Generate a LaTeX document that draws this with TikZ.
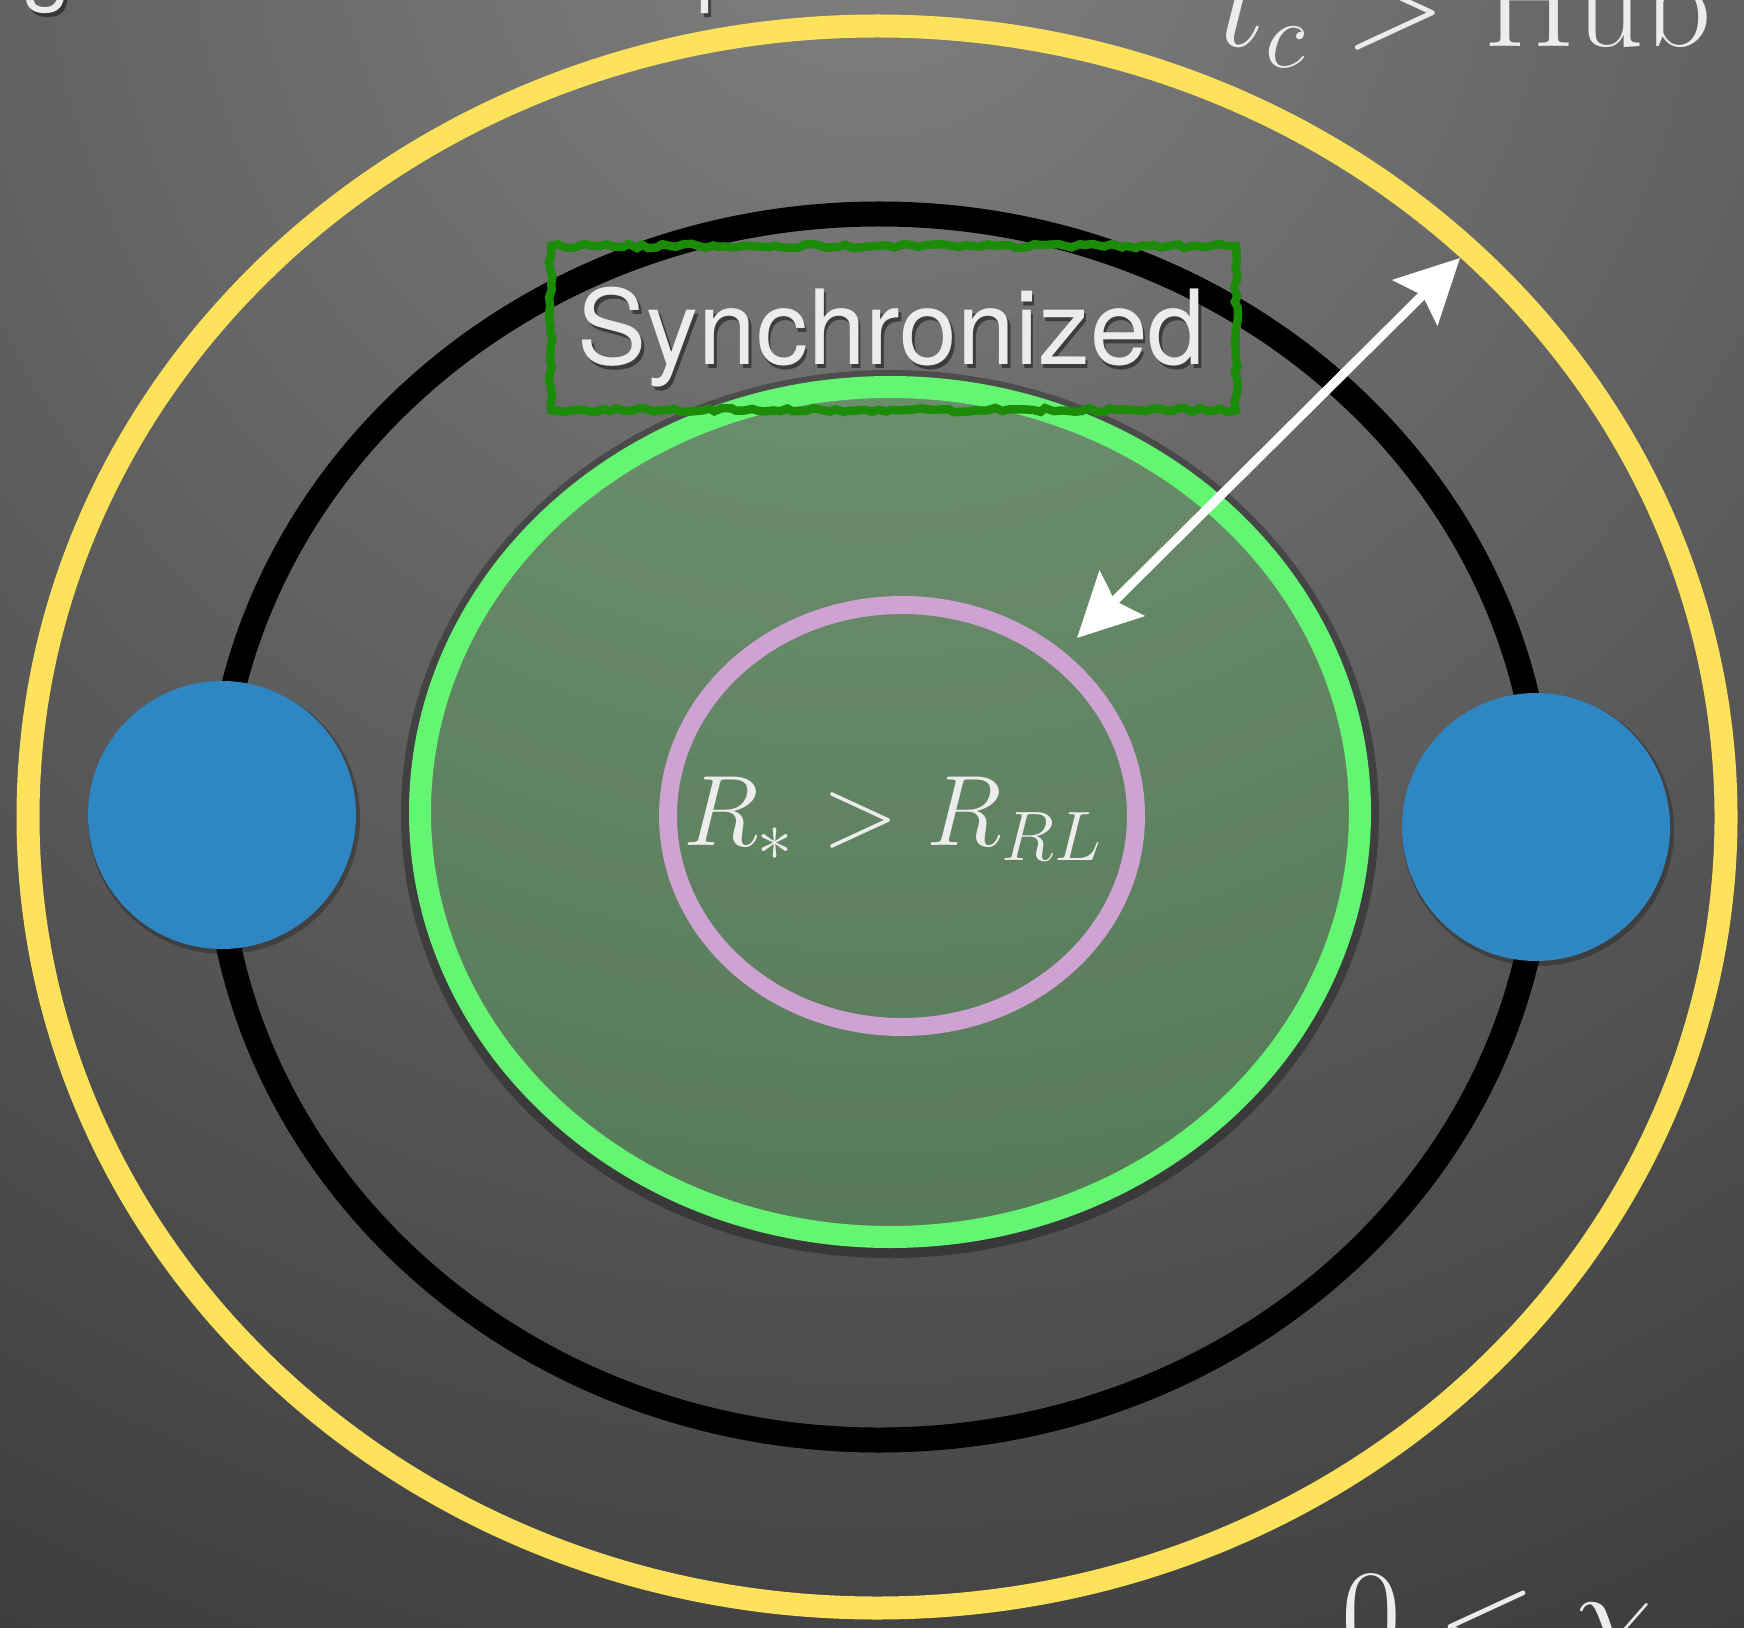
\RequirePackage{fix-cm}
\documentclass[tikz,border=0pt]{standalone}
\usepackage{fontspec}
\newfontfamily\helv{TeX Gyre Heros}
\usetikzlibrary{arrows.meta,decorations.pathmorphing}
\definecolor{ringyellow}{RGB}{255,226,92}
\definecolor{ringgreen}{RGB}{100,245,115}
\definecolor{ringpink}{RGB}{206,162,210}
\definecolor{starblue}{RGB}{46,134,194}
\definecolor{boxgreen}{RGB}{28,140,8}
\definecolor{lobefill}{RGB}{100,215,105}
\definecolor{txtgray}{RGB}{236,236,236}
\definecolor{bgtop}{RGB}{128,128,128}
\definecolor{bgbottom}{RGB}{42,42,42}
\begin{document}
\begin{tikzpicture}[every node/.style={inner sep=0pt, text=txtgray},
    ring/.style={line width=#1},
    shadowtext/.style={text=black, opacity=0.45},
    twotip/.style={{Stealth[length=6.3mm,width=6.3mm,inset=1mm]}-{Stealth[length=6.3mm,width=6.3mm,inset=1mm]}}]
        \useasboundingbox (0,0) rectangle (17.44,16.27);
        \clip (0,0) rectangle (17.44,16.27);
    % Background
        \shade[inner color=bgtop, outer color=bgbottom] (8.72,17.4) circle (25);
    % Rings
        \draw[ringyellow, ring=0.23cm] (8.77,8.10) ellipse (8.49 and 7.91);
        \draw[black, ring=0.25cm] (8.79,8.00) ellipse (6.63 and 6.13);
        \draw[black, opacity=0.3, ring=0.12cm] (8.90,8.13) ellipse (4.83 and 4.38);
        \fill[lobefill, fill opacity=0.3] (8.90,8.15) ellipse (4.70 and 4.25);
        \draw[ringgreen, ring=0.22cm] (8.90,8.15) ellipse (4.70 and 4.25);
        \draw[ringpink, ring=0.18cm] (9.02,8.11) ellipse (2.34 and 2.11);
    % Stars
        \fill[black, opacity=0.25] (2.24,8.09) circle (1.36);
        \fill[starblue] (2.22,8.12) circle (1.34);
        \fill[black, opacity=0.25] (15.38,7.97) circle (1.36);
        \fill[starblue] (15.36,8.00) circle (1.34);
    % Label box
        \pgfmathsetseed{7}
        \draw[boxgreen, line width=2.4pt, decorate, decoration={random steps, segment length=2pt, amplitude=0.6pt}] (5.51,12.17) rectangle (12.36,13.81);
        \node[shadowtext, anchor=base, font=\helv\fontsize{29.5}{34}\selectfont] (syncshadow) at (8.94,12.58) {Synchronized};
        \node[anchor=base, font=\helv\fontsize{29.5}{34}\selectfont] (sync) at (8.915,12.62) {Synchronized};
        \node[anchor=base, font=\fontsize{28.5}{33}\selectfont] (radius) at (8.93,7.82) {$R_* > R_{RL}$};
    % Arrow
        \coordinate (inner) at (10.77,9.89);
        \coordinate (outer) at (14.60,13.69);
        \draw[twotip, white, line width=2.6pt] (inner) -- (outer);
    % Clipped labels
        \node[shadowtext, anchor=base west, font=\helv\fontsize{25}{29}\selectfont] (envshadow) at (0.25,16.28) {g Massive envelope};
        \node[anchor=base west, font=\helv\fontsize{25}{29}\selectfont] (envelope) at (0.22,16.32) {g Massive envelope};
        \node[anchor=base west, font=\fontsize{38}{44}\selectfont] (tcond) at (12.18,15.80) {$t_c > \mathrm{Hub}$};
        \node[anchor=base west, font=\fontsize{37}{43}\selectfont] (chicond) at (13.41,-0.32) {$0 < \chi$};
\end{tikzpicture}
\end{document}
